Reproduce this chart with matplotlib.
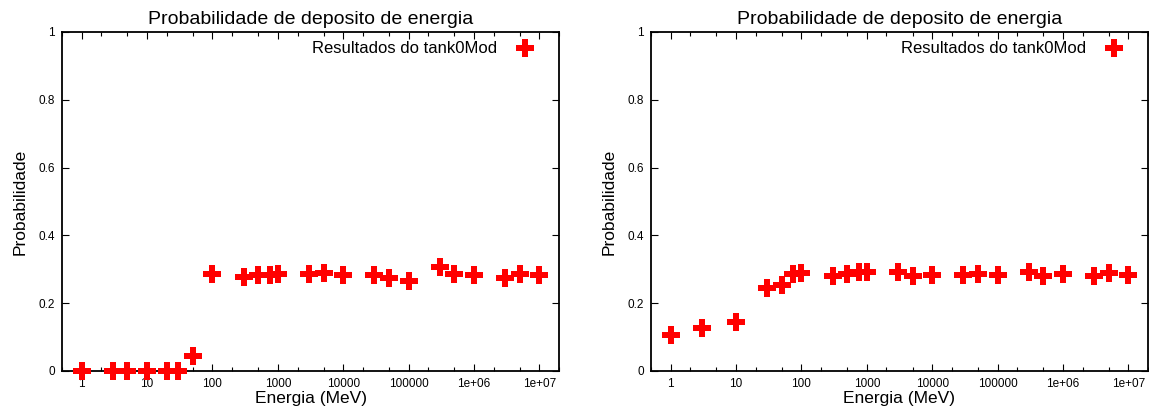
import matplotlib.pyplot as plt
from matplotlib.ticker import FixedLocator, NullFormatter

plt.rcParams['font.family'] = ['Liberation Sans', 'DejaVu Sans']

# energias simuladas (MeV) e probabilidade de deposito
energia_a = [1, 3, 5, 10, 20, 30, 50, 100, 300, 500, 750, 1000, 3000, 5000,
             1e4, 3e4, 5e4, 1e5, 3e5, 5e5, 1e6, 3e6, 5e6, 1e7]
prob_a = [0, 0, 0, 0, 0, 0, 0.044, 0.287, 0.277, 0.282, 0.282, 0.287, 0.287,
          0.289, 0.284, 0.282, 0.274, 0.266, 0.307, 0.287, 0.284, 0.274,
          0.287, 0.284]

energia_b = [1, 3, 10, 30, 50, 75, 100, 300, 500, 750, 1000, 3000, 5000,
             1e4, 3e4, 5e4, 1e5, 3e5, 5e5, 1e6, 3e6, 5e6, 1e7]
prob_b = [0.106, 0.126, 0.144, 0.245, 0.254, 0.287, 0.289, 0.279, 0.287,
          0.291, 0.291, 0.291, 0.279, 0.282, 0.284, 0.286, 0.282, 0.291,
          0.279, 0.286, 0.279, 0.289, 0.282]

xticks = [1, 10, 100, 1000, 1e4, 1e5, 1e6, 1e7]
xticklabels = ['1', '10', '100', '1000', '10000', '100000', '1e+06', '1e+07']
yticks = [0, 0.2, 0.4, 0.6, 0.8, 1]
yticklabels = ['0', '0.2', '0.4', '0.6', '0.8', '1']

fig = plt.figure(figsize=(11.49, 4.09), dpi=100)
ax_a = fig.add_axes([0.054, 0.093, 0.4325, 0.829])
ax_b = fig.add_axes([0.5666, 0.093, 0.4325, 0.829])

for ax, x, y in [(ax_a, energia_a, prob_a), (ax_b, energia_b, prob_b)]:
    ax.plot(x, y, linestyle='none', marker='P', markersize=12.5,
            color='#ff0000', markeredgewidth=0, clip_on=False, zorder=3,
            label='Resultados do tank0Mod')
    ax.set_xscale('log')
    ax.set_xlim(0.5, 2e7)
    ax.set_ylim(0, 1)
    ax.xaxis.set_major_locator(FixedLocator(xticks))
    ax.set_xticklabels(xticklabels)
    minors = [m * 10.0 ** k for k in range(-1, 8) for m in (2, 5)]
    ax.xaxis.set_minor_locator(FixedLocator(minors))
    ax.xaxis.set_minor_formatter(NullFormatter())
    ax.set_yticks(yticks)
    ax.set_yticklabels(yticklabels)
    ax.tick_params(which='major', direction='in', length=5, width=0.8,
                   top=True, right=True, labelsize=8.5, pad=5)
    ax.tick_params(which='minor', direction='in', length=3, width=0.8,
                   top=True, right=True)
    for s in ax.spines.values():
        s.set_linewidth(1.3)
    ax.set_title('Probabilidade de deposito de energia', fontsize=14, pad=6)
    ax.set_xlabel('Energia (MeV)', fontsize=12.5, labelpad=1)
    ax.set_ylabel('Probabilidade', fontsize=12.5, labelpad=8)
    ax.legend(loc='upper right', bbox_to_anchor=(0.951, 0.972), frameon=False,
              markerfirst=False, handlelength=1.2, handletextpad=1.05,
              borderpad=0, borderaxespad=0, fontsize=12)

fig.savefig('out.png', dpi=100)
